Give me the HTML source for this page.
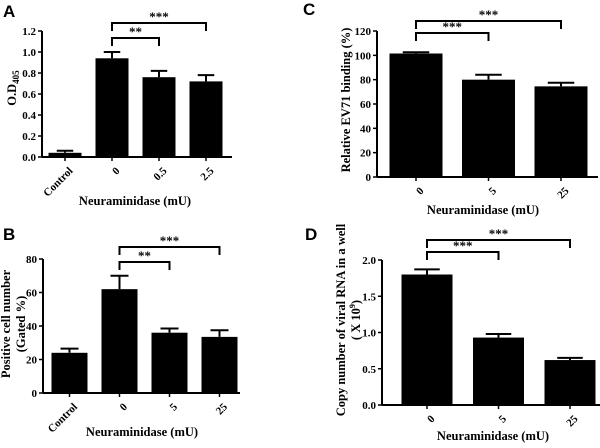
<!DOCTYPE html>
<html><head><meta charset="utf-8">
<style>
html,body{margin:0;padding:0;background:#fff;}
svg{display:block;font-family:"Liberation Serif",serif;font-weight:bold;}
.pl{font-family:"Liberation Sans",sans-serif;font-weight:bold;font-size:17px;}
</style></head>
<body>
<svg id="fig" width="600" height="448" viewBox="0 0 600 448" xmlns="http://www.w3.org/2000/svg"></svg>
<script>
// Panel A
const catsA = ["Control","0","0.5","2.5"];
const valsA = [0.04,0.94,0.76,0.72];
const errsA = [0.02,0.06,0.06,0.06];
const ticksA = ["0.0","0.2","0.4","0.6","0.8","1.0","1.2"];
// Panel B
const catsB = ["Control","0","5","25"];
const valsB = [24,62,36,33.5];
const errsB = [2.5,8,2.5,4];
const ticksB = ["0","20","40","60","80"];
// Panel C
const catsC = ["0","5","25"];
const valsC = [101.5,80,74.5];
const errsC = [1,4,3];
const ticksC = ["0","20","40","60","80","100","120"];
// Panel D
const catsD = ["0","5","25"];
const valsD = [1.8,0.93,0.62];
const errsD = [0.07,0.05,0.03];
const ticksD = ["0.0","0.5","1.0","1.5","2.0"];

const NS="http://www.w3.org/2000/svg";
const svg=document.getElementById('fig');
function mk(tag,attrs,parent,text){const e=document.createElementNS(NS,tag);for(const k in attrs)e.setAttribute(k,attrs[k]);if(text!==undefined)e.textContent=text;(parent||svg).appendChild(e);return e;}

function panel(o){
  const g=mk('g',{});
  
  
  const tmin=parseFloat(o.ticks[0]), tmax=parseFloat(o.ticks[o.ticks.length-1]);
  const y=v=>o.y0-(v-tmin)/(tmax-tmin)*(o.y0-o.y1);
  const x=i=>o.c0+i*o.step;
  const lbl=mk('text',{x:o.lx,y:o.ly,class:'pl'},g,o.id);
  
  
  // axes
  const ya=mk('line',{x1:o.ax,y1:o.y1,x2:o.ax,y2:o.y0,stroke:'#000','stroke-width':2},g);
  
  
  const xa=mk('line',{x1:o.ax,y1:o.y0,x2:o.xend,y2:o.y0,stroke:'#000','stroke-width':2},g);
  
  
  o.ticks.forEach(t=>{
    const yy=y(parseFloat(t));
    mk('line',{x1:o.ax-4,y1:yy,x2:o.ax,y2:yy,stroke:'#000','stroke-width':1.5},g);
    const tl=mk('text',{x:o.ax-6,y:yy+4,'font-size':11,'text-anchor':'end'},g,t);
    
    
  });
  o.cats.forEach((c,i)=>{
    const cx=x(i), v=o.vals[i], e=o.errs[i];
    const b=mk('rect',{x:cx-o.bw/2,y:y(v),width:o.bw,height:o.y0-y(v),fill:'#000'},g);
    
    
    const eb=mk('path',{d:`M${cx},${y(v)}V${y(v+e)}M${cx-o.bw/4},${y(v+e)}H${cx+o.bw/4}`,stroke:'#000','stroke-width':2,fill:'none'},g);
    
    
    mk('line',{x1:cx,y1:o.y0,x2:cx,y2:o.y0+4,stroke:'#000','stroke-width':1.5},g);
    const tx=cx+3, ty=o.y0+9;
    const xl=mk('text',{x:tx,y:ty,'font-size':11,'text-anchor':'end',transform:`rotate(-45 ${tx} ${ty})`,dy:'0.7em'},g,c);
    
    
  });
  const xt=mk('text',{x:o.tx,y:o.ty,'font-size':12.5,'text-anchor':'middle'},g,'Neuraminidase (mU)');
  
  
  o.ylab.forEach((s,k)=>{
    const px=o.yx+k*15;
    const t=mk('text',{x:px,y:o.yy,'font-size':12.5,'text-anchor':'middle',transform:`rotate(-90 ${px} ${o.yy})`},g);
    t.innerHTML=s;
    
    
  });
  o.brackets.forEach(br=>{
    const x1=x(br.a), x2=x(br.b);
    const p=mk('path',{d:`M${x1},${br.y+8}V${br.y}H${x2}V${br.y+8}`,stroke:'#000','stroke-width':2,fill:'none'},g);
    
    
    const s=mk('text',{x:(x1+x2)/2,y:br.y-2,'font-size':13,'text-anchor':'middle'},g,br.s);
    
    
  });
}

panel({id:'A',lx:3,ly:17,ax:42,xend:232,y0:157,y1:31,c0:65,step:47,bw:33,
  cats:catsA,vals:valsA,errs:errsA,ticks:ticksA,tx:135,ty:205,yx:16,yy:88,
  ylab:['O.D<tspan font-size="9" dy="3">405</tspan>'],
  brackets:[{a:1,b:3,y:23,s:'***'},{a:1,b:2,y:38,s:'**'}]});
panel({id:'B',lx:3,ly:240,ax:43,xend:240,y0:393,y1:259,c0:69.5,step:50,bw:36,
  cats:catsB,vals:valsB,errs:errsB,ticks:ticksB,tx:142,ty:436,yx:10,yy:324,
  ylab:['Positive cell number','(Gated %)'],
  brackets:[{a:1,b:3,y:247,s:'***'},{a:1,b:2,y:262,s:'**'}]});
panel({id:'C',lx:303,ly:15,ax:377,xend:598,y0:177,y1:31,c0:416,step:72.5,bw:53,
  cats:catsC,vals:valsC,errs:errsC,ticks:ticksC,tx:483,ty:214,yx:350,yy:100,
  ylab:['Relative EV71 binding (%)'],
  brackets:[{a:0,b:2,y:21,s:'***'},{a:0,b:1,y:33,s:'***'}]});
panel({id:'D',lx:305,ly:240,ax:382,xend:600,y0:405,y1:260,c0:427,step:71.5,bw:51,
  cats:catsD,vals:valsD,errs:errsD,ticks:ticksD,tx:493,ty:440,yx:345,yy:320,
  ylab:['Copy number of viral RNA in a well','( X 10<tspan font-size="8" dy="-5">9</tspan><tspan dy="5">)</tspan>'],
  brackets:[{a:0,b:2,y:240,s:'***'},{a:0,b:1,y:252,s:'***'}]});
</script>
</body></html>
